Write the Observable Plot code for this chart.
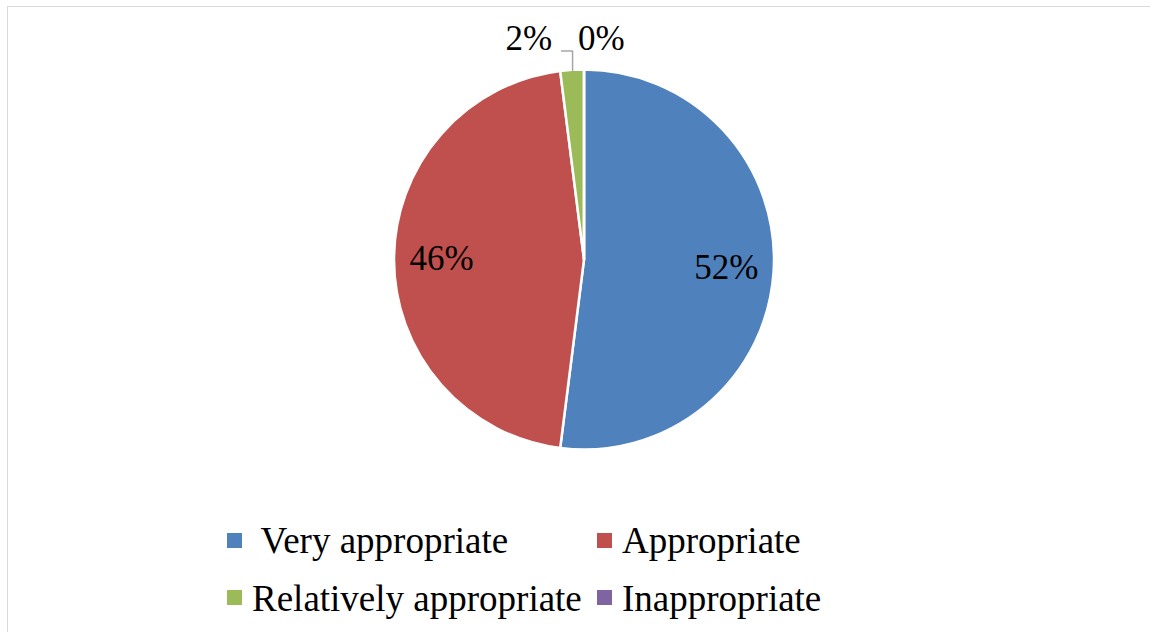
<!DOCTYPE html>
<html lang="en">
<head>
<meta charset="utf-8">
<script src="https://cdn.jsdelivr.net/npm/d3@7"></script>
<script src="https://cdn.jsdelivr.net/npm/@observablehq/plot@0.6"></script>
<style>
  html, body { margin: 0; padding: 0; background: #fff; }
  body { font-family: "Liberation Serif", "Times New Roman", serif; }
  #wrap { position: relative; width: 1150px; height: 632px; overflow: hidden; }
  #frame { position: absolute; left: 7px; top: 6px; width: 1200px; height: 700px;
           border-top: 1.5px solid #d9d9d9; border-left: 1.5px solid #d9d9d9; pointer-events: none; }
  .sw { position: absolute; width: 15px; height: 15px; }
  .lt { position: absolute; font-size: 37px; line-height: 37px; white-space: pre; color: #000; }
  .pl { position: absolute; font-size: 35px; line-height: 35px; white-space: pre; color: #000;
        font-family: "Liberation Serif", "Times New Roman", serif; }
</style>
</head>
<body>
<div id="wrap">
  <div id="chart"></div>
  <div id="frame"></div>
  <div id="labels"></div>
  <div id="legend"></div>
</div>
<script>
// ---- data ----
const categories = [" Very appropriate", "Appropriate", "Relatively appropriate", "Inappropriate"];
const values = [52, 46, 2, 0];
const labels = ["52%", "46%", "2%", "0%"];
const colors = ["#4F81BD", "#C0504D", "#9BBB59", "#8064A2"];

const data = categories.map((c, i) => ({category: c, value: values[i], label: labels[i], color: colors[i]}));

// slice geometry from data (clockwise from 12 o'clock)
const total = d3.sum(values);
let cum = 0;
const slices = data.map(d => {
  const a0 = cum / total * 2 * Math.PI;
  cum += d.value;
  const a1 = cum / total * 2 * Math.PI;
  return {...d, a0, a1, mid: (a0 + a1) / 2};
});

// label positions derived from slice mid angles
const innerR = 0.75, outerR = 1.158, leaderR = 1.1;
const textData = [];
const leader = [];
slices.forEach(s => {
  const sx = Math.sin(s.mid), sy = -Math.cos(s.mid);
  if (s.value / total >= 0.05) {
    textData.push({x: sx * innerR, y: sy * innerR, label: s.label, anchor: "middle", dx: 0});
  } else if (s.value > 0) {
    const lx = sx - 0.058;
    leader.push({x: sx, y: sy}, {x: sx, y: -leaderR}, {x: lx, y: -leaderR});
    textData.push({x: lx, y: -outerR, label: s.label, anchor: "end", dx: -9});
  } else {
    textData.push({x: 0, y: -outerR, label: s.label, anchor: "start", dx: -6});
  }
});

// custom pie mark drawn in Plot's x/y scale space
function pieMark(index, scales) {
  const cx = scales.x(0), cy = scales.y(0);
  const r = Math.abs(scales.x(1) - scales.x(0));
  const g = d3.create("svg:g").attr("transform", `translate(${cx},${cy})`);
  const arc = d3.arc().innerRadius(0).outerRadius(r);
  g.selectAll("path")
    .data(slices)
    .join("path")
    .attr("d", d => arc({startAngle: d.a0, endAngle: d.a1}))
    .attr("fill", d => d.color)
    .attr("stroke", "#fff")
    .attr("stroke-width", 2.5)
    .attr("stroke-linejoin", "round");
  return g.node();
}

const cxPx = 584, r = 190, topPx = 69.5;
const W = 1150, H = 632;

const plot = Plot.plot({
  width: W,
  height: H,
  marginLeft: cxPx - r,
  marginRight: W - (cxPx + r),
  marginTop: topPx,
  marginBottom: H - (topPx + 2 * r),
  x: {domain: [-1, 1], axis: null},
  y: {domain: [1, -1], axis: null},
  marks: [
    pieMark,
    Plot.line(leader, {x: "x", y: "y", stroke: "#a6a6a6", strokeWidth: 1.5})
  ]
});
document.getElementById("chart").appendChild(plot);

// data labels placed through Plot's own x/y scales
const xs = plot.scale("x"), ys = plot.scale("y");
const labelBox = document.getElementById("labels");
textData.forEach(d => {
  const px = xs.apply(d.x) + d.dx;
  const py = ys.apply(d.y);
  const el = document.createElement("div");
  el.className = "pl";
  el.textContent = d.label;
  el.style.fontFamily = "'Liberation Serif', 'Times New Roman', serif";
  el.style.top = (py + 0.32 * 35 - 0.8375 * 35) + "px";
  el.style.left = px + "px";
  if (d.anchor === "middle") el.style.transform = "translateX(-50%)";
  else if (d.anchor === "end") el.style.transform = "translateX(-100%)";
  labelBox.appendChild(el);
});

// ---- legend (HTML) ----
const legendPos = [
  {sx: 227, sy: 533, tx: 252, ty: 522},
  {sx: 597, sy: 533, tx: 622, ty: 522},
  {sx: 227, sy: 590, tx: 252, ty: 580},
  {sx: 597, sy: 590, tx: 622, ty: 580}
];
const legend = document.getElementById("legend");
data.forEach((d, i) => {
  const p = legendPos[i];
  const sw = document.createElement("div");
  sw.className = "sw";
  sw.style.left = p.sx + "px"; sw.style.top = p.sy + "px"; sw.style.background = d.color;
  legend.appendChild(sw);
  const t = document.createElement("div");
  t.className = "lt";
  t.style.left = p.tx + "px"; t.style.top = p.ty + "px";
  t.textContent = d.category;
  legend.appendChild(t);
});
</script>
</body>
</html>
